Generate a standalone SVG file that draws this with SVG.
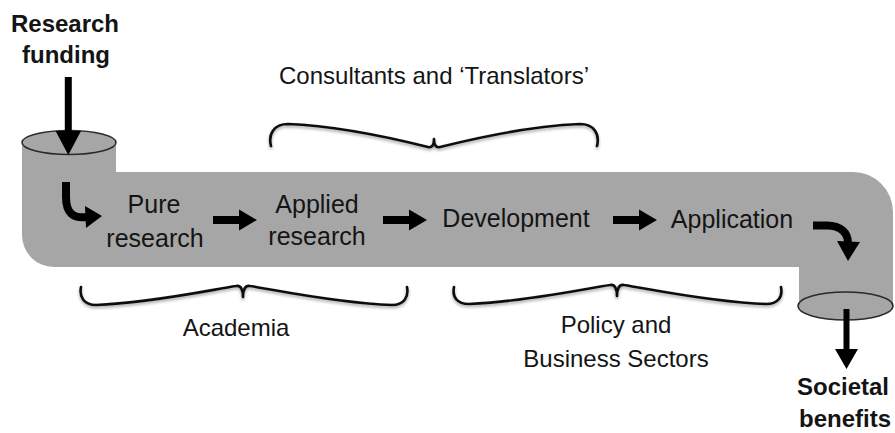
<svg xmlns="http://www.w3.org/2000/svg" width="895" height="433" viewBox="0 0 895 433">
  <defs>
    <style>
      .lbl { font-family: "Liberation Sans", Arial, sans-serif; font-size: 24px; fill: #141414; text-anchor: middle; }
      .big { font-size: 25px; }
      .bold { font-weight: bold; }
      .pipe { fill: #a6a6a6; }
      .rim { fill: #a6a6a6; stroke: #2a2a2a; stroke-width: 1.6; }
      .brace { fill: none; stroke: #111; stroke-width: 2.6; stroke-linecap: round; stroke-linejoin: round; filter: url(#soft); }
      .flow { fill: #000; }
      .bend { fill: none; stroke: #000; stroke-width: 8; }
    </style>
    <filter id="soft" x="-5%" y="-50%" width="110%" height="200%">
      <feDropShadow dx="0" dy="2" stdDeviation="1.4" flood-color="#000" flood-opacity="0.35"/>
    </filter>
    <!-- block arrow pointing right, origin at tail centre -->
    <path id="blockArrow" d="M0,-4 L26,-4 L26,-10.5 L44,0 L26,10.5 L26,4 L0,4 Z"/>
  </defs>

  <!-- pipe body -->
  <g id="pipe">
    <path class="pipe" d="M22,142 L22,235 A32,32 0 0 0 54,267 L799,267 L799,306 L893,306 L893,212 A40,40 0 0 0 853,172 L116,172 L116,142 Z"/>
    <ellipse class="rim" cx="69" cy="142.5" rx="47" ry="12"/>
    <ellipse class="rim" cx="845.5" cy="306" rx="47.5" ry="14"/>
  </g>

  <!-- connectors -->
  <g id="connectors" class="flow">
    <path d="M64.8,77 L71.8,77 L71.8,131 L81,131 L68.3,155 L55.6,131 L64.8,131 Z"/>
    <path class="bend" d="M66,182 L66,197 C66,213 73,219 88,217"/>
    <polygon points="85,206 102,216 86,228"/>
    <use href="#blockArrow" x="213" y="220"/>
    <use href="#blockArrow" x="383" y="220"/>
    <use href="#blockArrow" x="613" y="220"/>
    <path class="bend" d="M813,225.5 L827,225.5 C841,225.5 848,233 848,243"/>
    <polygon points="837,241 848,261 860,242"/>
    <path d="M843.5,309 L849.5,309 L849.5,349 L858,349 L846.5,369 L835,349 L843.5,349 Z"/>
  </g>

  <!-- braces -->
  <g id="brace-consultants">
    <path class="brace" d="M271,146 C268,134 274,124 288,124 C340,126 400,140 428,147 C432,148 434,145 434,139 C434,145 436,148 440,147 C468,140 528,126 580,124 C594,124 600,134 597,146"/>
  </g>
  <g id="brace-academia">
    <path class="brace" d="M81,287 C79,297 84,305 96,305 C150,303 210,290 236,286 C241,285 243,290 243,297 C243,290 245,285 250,286 C276,290 336,303 392,305 C404,305 409,297 407,287"/>
  </g>
  <g id="brace-policy">
    <path class="brace" d="M454,287 C452,297 457,304 469,304 C523,302 583,289 610,285 C615,284 617,289 617,296 C617,289 619,284 624,285 C650,289 710,302 766,304 C778,304 783,297 781,287"/>
  </g>

  <!-- nodes -->
  <g id="node-funding">
    <text class="lbl bold" x="65" y="32">Research</text>
    <text class="lbl bold" x="66" y="63">funding</text>
  </g>
  <g id="node-consultants">
    <text class="lbl" x="434" y="84">Consultants and ‘Translators’</text>
  </g>
  <g id="node-pure">
    <text class="lbl big" x="154" y="213">Pure</text>
    <text class="lbl big" x="155" y="247">research</text>
  </g>
  <g id="node-applied">
    <text class="lbl big" x="317" y="213">Applied</text>
    <text class="lbl big" x="317" y="245">research</text>
  </g>
  <g id="node-development">
    <text class="lbl big" x="516" y="227">Development</text>
  </g>
  <g id="node-application">
    <text class="lbl big" x="732" y="228">Application</text>
  </g>
  <g id="node-academia">
    <text class="lbl" x="236" y="336">Academia</text>
  </g>
  <g id="node-policy">
    <text class="lbl" x="616" y="333">Policy and</text>
    <text class="lbl" x="616" y="367">Business Sectors</text>
  </g>
  <g id="node-societal">
    <text class="lbl bold" x="843" y="395">Societal</text>
    <text class="lbl bold" x="845" y="427">benefits</text>
  </g>
</svg>
